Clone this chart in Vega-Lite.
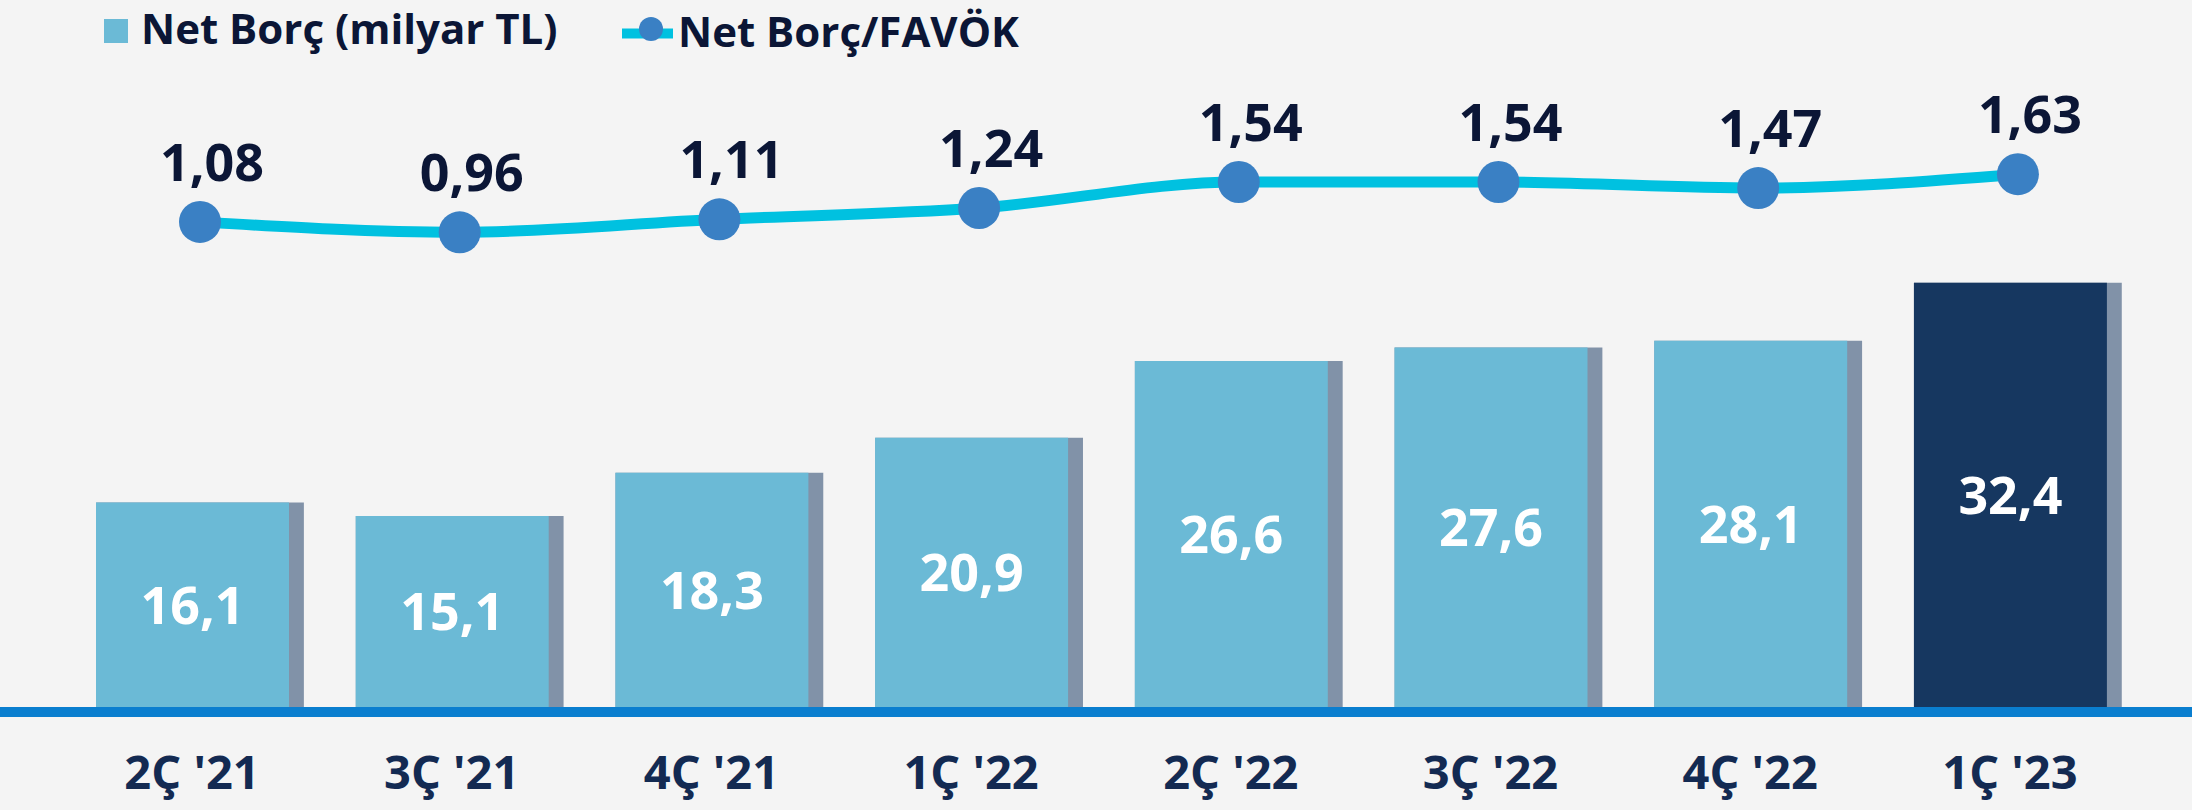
{
  "$schema": "https://vega.github.io/schema/vega-lite/v6.json",
  "width": 2192,
  "height": 707,
  "autosize": {"type": "none"},
  "padding": {"left": 0, "top": 0, "right": 0, "bottom": 103},
  "background": "#f4f4f4",
  "config": {
    "view": {"stroke": null},
    "font": "Open Sans",
    "locale": {"number": {"decimal": ",", "thousands": ".", "grouping": [3], "currency": ["", " TL"]}},
    "legend": {"padding": 0, "offset": 0, "labelLimit": 1000}
  },
  "data": {
    "values": [
      {"q": "2Ç '21", "debt": 16.1, "ratio": 1.08},
      {"q": "3Ç '21", "debt": 15.1, "ratio": 0.96},
      {"q": "4Ç '21", "debt": 18.3, "ratio": 1.11},
      {"q": "1Ç '22", "debt": 20.9, "ratio": 1.24},
      {"q": "2Ç '22", "debt": 26.6, "ratio": 1.54},
      {"q": "3Ç '22", "debt": 27.6, "ratio": 1.54},
      {"q": "4Ç '22", "debt": 28.1, "ratio": 1.47},
      {"q": "1Ç '23", "debt": 32.4, "ratio": 1.63}
    ]
  },
  "layer": [
    {
      "mark": {"type": "bar", "color": "#8192a8"},
      "encoding": {
        "x": {"field": "q", "type": "nominal", "sort": null, "scale": {"range": [70.15, 2147.75], "paddingInner": 0.2, "paddingOuter": 0.1}, "axis": {"title": null, "domain": false, "ticks": false, "tickSize": 0, "grid": false, "labelAngle": 0, "labelPadding": 81, "labelBaseline": "alphabetic", "labelOffset": -8, "labelFont": "Open Sans", "labelFontSize": 47, "labelFontWeight": "bold", "labelColor": "#132a52"}},
        "y": {"field": "debt", "type": "quantitative", "scale": {"domain": [0.93, 53.38], "nice": false, "zero": false}, "axis": null},
        "y2": {"datum": 0.93}
      }
    },
    {
      "mark": {"type": "bar", "width": 193, "xOffset": -7.5},
      "encoding": {
        "x": {"field": "q", "type": "nominal", "sort": null, "scale": {"range": [70.15, 2147.75], "paddingInner": 0.2, "paddingOuter": 0.1}, "axis": {"title": null, "domain": false, "ticks": false, "tickSize": 0, "grid": false, "labelAngle": 0, "labelPadding": 81, "labelBaseline": "alphabetic", "labelOffset": -8, "labelFont": "Open Sans", "labelFontSize": 47, "labelFontWeight": "bold", "labelColor": "#132a52"}},
        "y": {"field": "debt", "type": "quantitative", "scale": {"domain": [0.93, 53.38], "nice": false, "zero": false}, "axis": null},
        "y2": {"datum": 0.93},
        "color": {
          "condition": {"test": "indexof(datum.q, '23') >= 0", "value": "#163760"},
          "datum": "Net Borç (milyar TL)",
          "scale": {"range": ["#6bbad6"]},
          "legend": {"orient": "none", "legendX": 95, "legendY": 10, "title": null, "symbolType": "square", "symbolSize": 576, "symbolStrokeWidth": 0, "labelFont": "Open Sans", "labelFontSize": 42, "labelFontWeight": "bold", "labelColor": "#0b1636", "labelOffset": 4, "labelLimit": 1000, "padding": 0}
        }
      }
    },
    {
      "mark": {"type": "text", "xOffset": -7.5, "dy": 3, "baseline": "middle", "fontSize": 52, "fontWeight": "bold", "color": "#ffffff"},
      "encoding": {
        "x": {"field": "q", "type": "nominal", "sort": null, "scale": {"range": [70.15, 2147.75], "paddingInner": 0.2, "paddingOuter": 0.1}, "axis": {"title": null, "domain": false, "ticks": false, "tickSize": 0, "grid": false, "labelAngle": 0, "labelPadding": 81, "labelBaseline": "alphabetic", "labelOffset": -8, "labelFont": "Open Sans", "labelFontSize": 47, "labelFontWeight": "bold", "labelColor": "#132a52"}},
        "y": {"field": "debt", "type": "quantitative", "scale": {"domain": [0.93, 105.83], "nice": false, "zero": false}, "axis": null},
        "text": {"field": "debt", "type": "quantitative", "format": ".1f"}
      }
    },
    {
      "mark": {"type": "rule", "color": "#0a7ecf", "strokeWidth": 10},
      "encoding": {
        "y": {"datum": 0.56, "scale": {"domain": [0.93, 53.38], "nice": false, "zero": false}, "axis": null}
      }
    },
    {
      "mark": {"type": "line", "interpolate": "monotone", "strokeWidth": 11},
      "encoding": {
        "x": {"field": "q", "type": "nominal", "sort": null, "scale": {"range": [70.15, 2147.75], "paddingInner": 0.2, "paddingOuter": 0.1}, "axis": {"title": null, "domain": false, "ticks": false, "tickSize": 0, "grid": false, "labelAngle": 0, "labelPadding": 81, "labelBaseline": "alphabetic", "labelOffset": -8, "labelFont": "Open Sans", "labelFontSize": 47, "labelFontWeight": "bold", "labelColor": "#132a52"}},
        "y": {"field": "ratio", "type": "quantitative", "scale": {"domain": [-4.515, 3.639], "nice": false, "zero": false}, "axis": null},
        "stroke": {
          "datum": "Net Borç/FAVÖK",
          "scale": {"range": ["#00c1e0"]},
          "legend": {"orient": "none", "legendX": 617, "legendY": 3, "title": null, "symbolType": "stroke", "symbolSize": 2601, "symbolStrokeWidth": 10, "labelFont": "Open Sans", "labelFontSize": 42, "labelFontWeight": "bold", "labelColor": "#0b1636", "labelOffset": 0, "labelLimit": 1000, "padding": 0}
        }
      }
    },
    {
      "mark": {"type": "point", "filled": true, "size": 1764, "opacity": 1, "color": "#3a80c4", "strokeWidth": 0},
      "encoding": {
        "x": {"field": "q", "type": "nominal", "sort": null, "scale": {"range": [70.15, 2147.75], "paddingInner": 0.2, "paddingOuter": 0.1}, "axis": {"title": null, "domain": false, "ticks": false, "tickSize": 0, "grid": false, "labelAngle": 0, "labelPadding": 81, "labelBaseline": "alphabetic", "labelOffset": -8, "labelFont": "Open Sans", "labelFontSize": 47, "labelFontWeight": "bold", "labelColor": "#132a52"}},
        "y": {"field": "ratio", "type": "quantitative", "scale": {"domain": [-4.515, 3.639], "nice": false, "zero": false}, "axis": null},
        "shape": {
          "datum": " ",
          "scale": {"range": ["circle"]},
          "legend": {"orient": "none", "legendX": 630, "legendY": 8, "title": null, "symbolType": "circle", "symbolSize": 576, "symbolFillColor": "#3a80c4", "symbolStrokeWidth": 0, "symbolOpacity": 1, "labelFontSize": 42, "labelOffset": 0, "padding": 0}
        }
      }
    },
    {
      "mark": {"type": "text", "dy": -41, "dx": 12, "baseline": "alphabetic", "fontSize": 52, "fontWeight": "bold", "color": "#0b1636"},
      "encoding": {
        "x": {"field": "q", "type": "nominal", "sort": null, "scale": {"range": [70.15, 2147.75], "paddingInner": 0.2, "paddingOuter": 0.1}, "axis": {"title": null, "domain": false, "ticks": false, "tickSize": 0, "grid": false, "labelAngle": 0, "labelPadding": 81, "labelBaseline": "alphabetic", "labelOffset": -8, "labelFont": "Open Sans", "labelFontSize": 47, "labelFontWeight": "bold", "labelColor": "#132a52"}},
        "y": {"field": "ratio", "type": "quantitative", "scale": {"domain": [-4.515, 3.639], "nice": false, "zero": false}, "axis": null},
        "text": {"field": "ratio", "type": "quantitative", "format": ".2f"}
      }
    }
  ],
  "resolve": {"scale": {"y": "independent"}}
}
